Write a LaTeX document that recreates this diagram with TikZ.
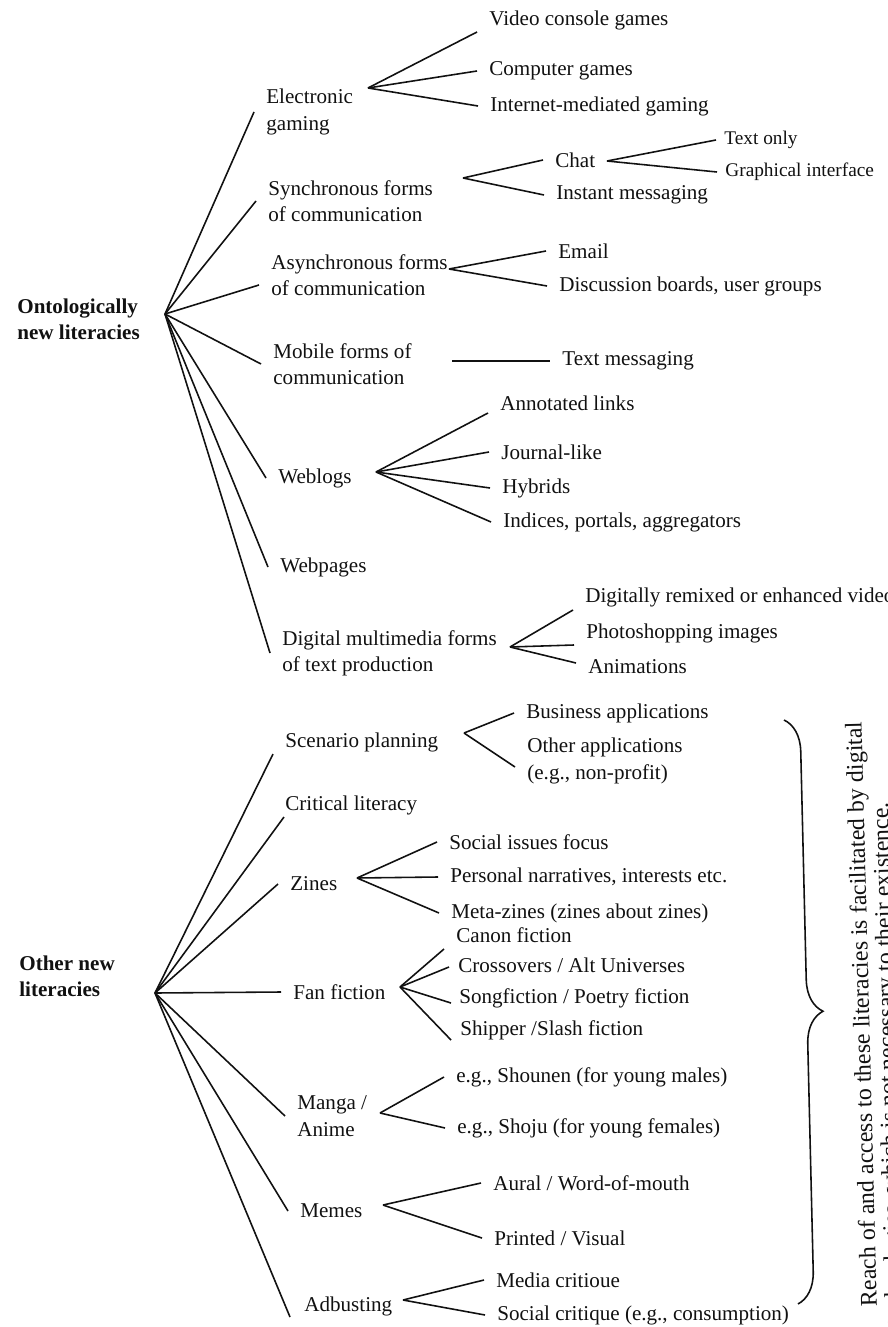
\documentclass[tikz,border=0pt]{standalone}
\usepackage{fontspec}
\setmainfont{Liberation Serif}
\usetikzlibrary{decorations.pathreplacing}
\definecolor{cink}{HTML}{111111}

\begin{document}
\begin{tikzpicture}[
    x=0.02cm, y=-0.02cm,
    br/.style={line width=0.9pt, draw=cink},
    lf/.style={anchor=west, inner xsep=0.24cm, inner ysep=1pt, align=left,
               font=\fontsize{12}{15}\selectfont, text=cink},
    sm/.style={lf, inner xsep=0.16cm, font=\fontsize{11}{13}\selectfont},
    rootlbl/.style={anchor=west, inner sep=0pt, align=left,
               font=\bfseries\fontsize{12}{15}\selectfont, text=cink},
    vtxt/.style={anchor=west, inner sep=0pt, rotate=91.5,
               font=\fontsize{13.6}{16}\selectfont, text=cink},
  ]
  \useasboundingbox (0,0) rectangle (888,1327);

  % ontologically new literacies
  \node[rootlbl] (onl) at (17,319) {Ontologically\\new literacies};
  \coordinate (r1) at (165,314);
  \node[lf] (eg)  at (254,112) {Electronic\\gaming};
  \node[lf] (syn) at (256,201) {Synchronous forms\\of communication};
  \node[lf] (asy) at (259,275) {Asynchronous forms\\of communication};
  \node[lf] (mob) at (261,364) {Mobile forms of\\communication};
  \node[lf] (wbl) at (266,478) {Weblogs};
  \node[lf] (wbp) at (268,567) {Webpages};
  \node[lf] (dig) at (270,653) {Digital multimedia forms\\of text production};
  \draw[br] (r1) -- (eg.west);
  \draw[br] (r1) -- (syn.west);
  \draw[br] (r1) -- ([shift={(0,10)}]asy.west);
  \draw[br] (r1) -- (mob.west);
  \draw[br] (r1) -- (wbl.west);
  \draw[br] (r1) -- (wbp.west);
  \draw[br] (r1) -- (dig.west);

  \coordinate (eg-f) at (368,88);
  \node[lf] (vcg) at (477,20)  {Video console games};
  \node[lf] (cpg) at (477,71)  {Computer games};
  \node[lf] (img) at (478,106) {Internet-mediated gaming};
  \draw[br] (eg-f) -- ([shift={(0,12)}]vcg.west);
  \draw[br] (eg-f) -- (cpg.west);
  \draw[br] (eg-f) -- (img.west);

  \coordinate (syn-f) at (463,178);
  \node[lf] (cht) at (543,160) {Chat};
  \node[lf] (ims) at (544,195) {Instant messaging};
  \draw[br] (syn-f) -- (cht.west);
  \draw[br] (syn-f) -- (ims.west);
  \coordinate (cht-f) at (607,161);
  \node[sm] (txo) at (716,140) {Text only};
  \node[sm] (gri) at (717,172) {Graphical interface};
  \draw[br] (cht-f) -- (txo.west);
  \draw[br] (cht-f) -- (gri.west);

  \coordinate (asy-f) at (449,269);
  \node[lf] (eml) at (546,251) {Email};
  \node[lf] (dbg) at (547,286) {Discussion boards, user groups};
  \draw[br] (asy-f) -- (eml.west);
  \draw[br] (asy-f) -- (dbg.west);

  \coordinate (mob-f) at (452,361);
  \node[lf] (tms) at (550,361) {Text messaging};
  \draw[br] (mob-f) -- (tms.west);

  \coordinate (wbl-f) at (376,472);
  \node[lf] (anl) at (488,403) {Annotated links};
  \node[lf] (jnl) at (489,452) {Journal-like};
  \node[lf] (hyb) at (490,488) {Hybrids};
  \node[lf] (ipa) at (491,522) {Indices, portals, aggregators};
  \draw[br] (wbl-f) -- ([shift={(0,10)}]anl.west);
  \draw[br] (wbl-f) -- (jnl.west);
  \draw[br] (wbl-f) -- (hyb.west);
  \draw[br] (wbl-f) -- (ipa.west);

  \coordinate (dig-f) at (510,647);
  \node[lf] (drv) at (573,597) {Digitally remixed or enhanced video};
  \node[lf] (phi) at (574,633) {Photoshopping images};
  \node[lf] (ani) at (576,667) {Animations};
  \draw[br] (dig-f) -- ([shift={(0,13)}]drv.west);
  \draw[br] (dig-f) -- ([shift={(0,12)}]phi.west);
  \draw[br] (dig-f) -- ([shift={(0,-4)}]ani.west);

  % other new literacies
  \node[rootlbl] (onw) at (19,976) {Other new\\literacies};
  \coordinate (r2) at (155,993);
  \node[lf] (scp) at (273,742)  {Scenario planning};
  \node[lf] (crl) at (273,805)  {Critical literacy};
  \node[lf] (zin) at (278,884)  {Zines};
  \node[lf] (fan) at (281,992)  {Fan fiction};
  \node[lf] (mga) at (285,1116) {Manga /\\Anime};
  \node[lf] (mem) at (288,1211) {Memes};
  \node[lf] (adb) at (292,1306) {Adbusting};
  \draw[br] (r2) -- ([shift={(0,12)}]scp.west);
  \draw[br] (r2) -- ([shift={(11,12)}]crl.west);
  \draw[br] (r2) -- (zin.west);
  \draw[br] (r2) -- (fan.west);
  \draw[br] (r2) -- (mga.west);
  \draw[br] (r2) -- (mem.west);
  \draw[br] (r2) -- ([shift={(-2,11)}]adb.west);

  \coordinate (scp-f) at (464,733);
  \node[lf] (bap) at (514,713) {Business applications};
  \node[lf] (oap) at (515,761) {Other applications\\(e.g., non-profit)};
  \draw[br] (scp-f) -- (bap.west);
  \draw[br] (scp-f) -- ([shift={(0,6)}]oap.west);

  \coordinate (zin-f) at (357,878);
  \node[lf] (sif) at (437,842) {Social issues focus};
  \node[lf] (pni) at (438,877) {Personal narratives, interests etc.};
  \node[lf] (mtz) at (439,913) {Meta-zines (zines about zines)};
  \draw[br] (zin-f) -- (sif.west);
  \draw[br] (zin-f) -- (pni.west);
  \draw[br] (zin-f) -- (mtz.west);

  \coordinate (fan-f) at (400,987);
  \node[lf] (cnf) at (444,935)  {Canon fiction};
  \node[lf] (cau) at (446,965)  {Crossovers / Alt Universes};
  \node[lf] (spf) at (447,998)  {Songfiction / Poetry fiction};
  \node[lf] (shf) at (448,1030) {Shipper /Slash fiction};
  \draw[br] (fan-f) -- ([shift={(0,14)}]cnf.west);
  \draw[br] (fan-f) -- ([shift={(3,2)}]cau.west);
  \draw[br] (fan-f) -- ([shift={(4,5)}]spf.west);
  \draw[br] (fan-f) -- ([shift={(3,10)}]shf.west);

  \coordinate (mga-f) at (380,1113);
  \node[lf] (sho) at (444,1077) {e.g., Shounen (for young males)};
  \node[lf] (shj) at (445,1128) {e.g., Shoju (for young females)};
  \draw[br] (mga-f) -- (sho.west);
  \draw[br] (mga-f) -- (shj.west);

  \coordinate (mem-f) at (383,1205);
  \node[lf] (aur) at (481,1183) {Aural / Word-of-mouth};
  \node[lf] (prv) at (482,1238) {Printed / Visual};
  \draw[br] (mem-f) -- (aur.west);
  \draw[br] (mem-f) -- (prv.west);

  \coordinate (adb-f) at (403,1300);
  \node[lf] (mdc) at (484,1280) {Media critioue};
  \node[lf] (scc) at (485,1315) {Social critique (e.g., consumption)};
  \draw[br] (adb-f) -- (mdc.west);
  \draw[br] (adb-f) -- (scc.west);

  % brace and side note
  \coordinate (bt) at (784,720);
  \coordinate (bb) at (798,1304);
  \draw[br, decorate, decoration={brace, amplitude=0.64cm}] (bt) -- (bb);
  \node[vtxt] (nt1) at (871,1307) {Reach of and access to these literacies is facilitated by digital};
  \node[vtxt] (nt2) at (896,1326) {technologies, which is not necessary to their existence.};
\end{tikzpicture}
\end{document}
